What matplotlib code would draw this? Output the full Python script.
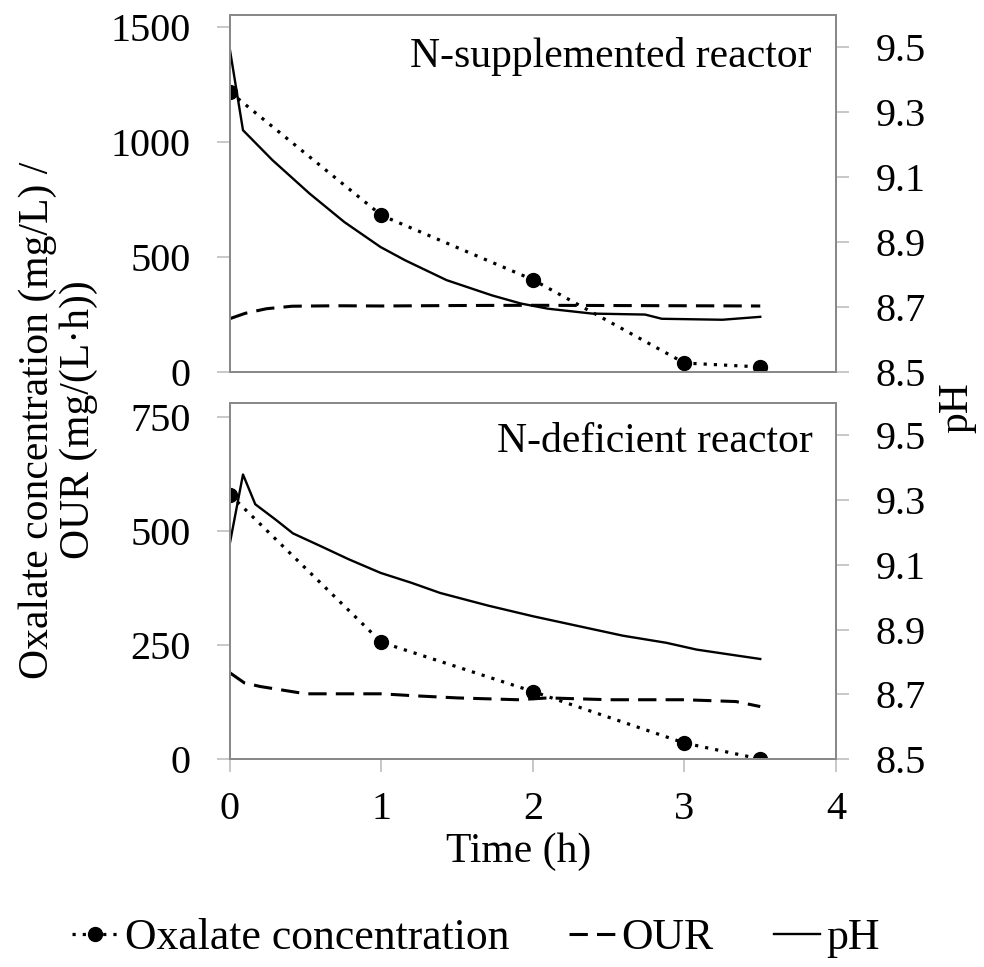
import matplotlib
matplotlib.use('Agg')
import matplotlib.pyplot as plt

plt.rcParams['font.family'] = ['Liberation Serif', 'DejaVu Serif']

# N-supplemented reactor
sup_ox_t = [0, 1, 2, 3, 3.5]
sup_ox = [1217, 681, 401, 39, 22]
sup_our_t = [0, 0.1, 0.24, 0.41, 0.7, 1.0, 1.5, 2.0, 2.5, 3.0, 3.5]
sup_our = [232, 255, 275, 286, 288, 287, 289, 290, 289, 288, 287]
sup_ph_t = [0, 0.086, 0.28, 0.525, 0.755, 0.994, 1.157, 1.43, 1.73, 1.92, 2.1,
            2.39, 2.74, 2.85, 3.25, 3.5]
sup_ph = [9.492, 9.245, 9.153, 9.050, 8.962, 8.885, 8.844, 8.783, 8.736, 8.711,
          8.695, 8.68, 8.677, 8.664, 8.661, 8.67]

# N-deficient reactor
def_ox_t = [0, 1, 2, 3, 3.5]
def_ox = [580, 256, 148, 35, 0]
def_our_t = [0, 0.095, 0.2, 0.5, 1.0, 1.2, 1.5, 1.9, 2.1, 2.5, 3.0, 3.34, 3.5]
def_our = [189, 167, 159, 143, 143, 139, 134, 130, 134, 130, 130, 126, 115]
def_ph_t = [0, 0.086, 0.167, 0.30, 0.416, 0.597, 0.784, 0.994, 1.2, 1.387, 1.703,
            2.0, 2.306, 2.593, 2.88, 3.08, 3.296, 3.5]
def_ph = [9.168, 9.379, 9.287, 9.24, 9.197, 9.158, 9.117, 9.075, 9.044, 9.013,
          8.974, 8.941, 8.91, 8.881, 8.859, 8.838, 8.823, 8.809]

fs = 29
spine_c = '#898989'
tick_c = '#bfbfbf'

fig = plt.figure(figsize=(9.84, 9.67), dpi=100)
ax1 = fig.add_axes([0.2337, 0.6153, 0.6159, 0.3692])
ax2 = fig.add_axes([0.2337, 0.2151, 0.6159, 0.3682])
ax1r = ax1.twinx()
ax2r = ax2.twinx()


def style(ax, axr, ymax, yticks, show_x):
    ax.set_xlim(0, 4)
    ax.set_ylim(0, ymax)
    ax.set_yticks(yticks)
    axr.set_ylim(8.5, 9.6)
    axr.set_yticks([8.5, 8.7, 8.9, 9.1, 9.3, 9.5])
    axr.set_yticklabels(['8.5', '8.7', '8.9', '9.1', '9.3', '9.5'])
    for a in (ax, axr):
        for s in a.spines.values():
            s.set_color(spine_c)
            s.set_linewidth(1.4)
    ax.tick_params(axis='y', direction='out', length=9.4, width=1.2, color=tick_c,
                   labelsize=fs, pad=19)
    axr.tick_params(axis='y', direction='out', length=9.4, width=1.2, color=tick_c,
                    labelsize=fs, pad=19)
    if show_x:
        ax.set_xticks([0, 1, 2, 3, 4])
        ax.tick_params(axis='x', direction='out', length=9.4, width=1.2, color=tick_c,
                       labelsize=fs, pad=14)
    else:
        ax.set_xticks([])


def draw(ax, axr, ox_t, ox, our_t, our, ph_t, ph):
    ax.plot(ox_t, ox, color='black', linestyle=(0, (1, 2.2)), linewidth=2.3,
            marker='o', markersize=10, label='Oxalate concentration')
    ax.plot(our_t, our, color='black', linestyle=(0, (6, 3)), linewidth=2.2,
            label='OUR')
    axr.plot(ph_t, ph, color='black', linewidth=1.7, label='pH')


draw(ax1, ax1r, sup_ox_t, sup_ox, sup_our_t, sup_our, sup_ph_t, sup_ph)
draw(ax2, ax2r, def_ox_t, def_ox, def_our_t, def_our, def_ph_t, def_ph)
style(ax1, ax1r, 1552, [0, 500, 1000, 1500], False)
style(ax2, ax2r, 781, [0, 250, 500, 750], True)

ax1.text(0.96, 0.855, 'N-supplemented reactor', transform=ax1.transAxes,
         ha='right', va='baseline', fontsize=30)
ax2.text(0.962, 0.862, 'N-deficient reactor', transform=ax2.transAxes,
         ha='right', va='baseline', fontsize=30)

ax2.set_xlabel('Time (h)', fontsize=30, labelpad=4)
ax2.xaxis.set_label_coords(0.477, -0.205)

fig.text(0.059, 1 - 420 / 967, 'Oxalate concentration (mg/L) /\nOUR (mg/(L·h))',
         rotation=90, ha='center', va='center', multialignment='center',
         fontsize=30, linespacing=1.1)
fig.text(957 / 984, 1 - 408 / 967, 'pH', rotation=90, ha='center', va='center',
         fontsize=30)

h1, l1 = ax1.get_legend_handles_labels()
h2, l2 = ax1r.get_legend_handles_labels()
fig.legend(h1 + h2, l1 + l2, loc='center', bbox_to_anchor=(476 / 984, 1 - 938 / 967),
           ncol=3, frameon=False, fontsize=31.5, handlelength=1.05,
           handletextpad=0.15, columnspacing=1.37)

fig.savefig('out.png', dpi=100)
